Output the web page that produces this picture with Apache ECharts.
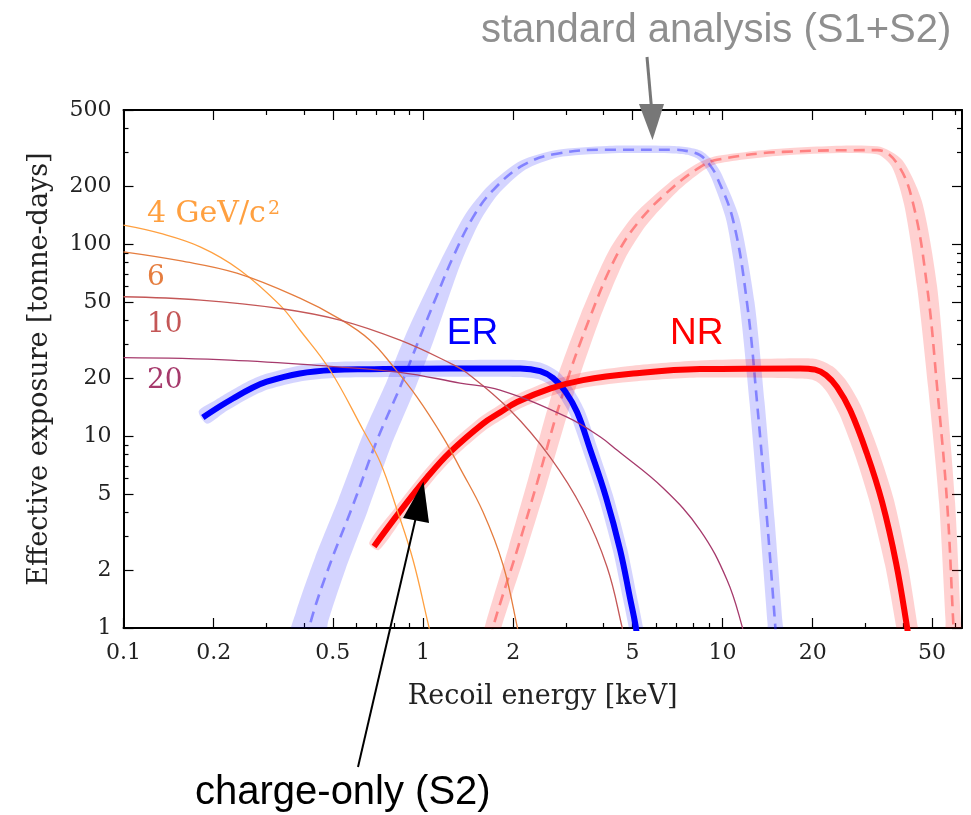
<!DOCTYPE html>
<html><head><meta charset="utf-8">
<script src="https://cdn.jsdelivr.net/npm/echarts@6/dist/echarts.min.js"></script>
<style>html,body{margin:0;padding:0;background:#fff}#c{width:971px;height:815px}</style>
</head><body><div id="c"></div>
<script>
// ---- data (recoil energy keV, effective exposure tonne-days) ----
const xMajor = [0.1, 0.2, 0.5, 1, 2, 5, 10, 20, 50];
const xMinor = [0.3, 0.4, 0.6, 0.7, 0.8, 0.9, 3, 4, 6, 7, 8, 9, 30, 40, 60];
const yMajor = [1, 2, 5, 10, 20, 50, 100, 200, 500];
const yMinor = [3, 4, 6, 7, 8, 9, 30, 40, 60, 70, 80, 90, 300, 400];

// charge-only (S2), electronic recoils
const erS2E = [0.184, 0.210, 0.232, 0.2645, 0.301, 0.388, 0.501, 0.650, 1.23, 2.11, 2.46, 2.72, 2.98, 3.27, 3.61, 4.08, 4.55, 4.91, 5.14, 5.18];
const erS2V = [12.5, 14.3, 15.7, 17.6, 19.2, 21.2, 22.1, 22.3, 22.5, 22.5, 21.8, 20.05, 17.15, 13.3, 8.56, 4.81, 2.55, 1.43, 1.0, 0.87];
// charge-only (S2), nuclear recoils
const nrS2E = [0.686, 0.838, 1.031, 1.231, 1.586, 1.807, 2.061, 2.655, 3.42, 5.03, 8.41, 18.15, 20.36, 22.16, 24.12, 26.66, 30.3, 34.09, 37.96, 41.3, 41.8];
const nrS2V = [2.66, 4.05, 6.08, 8.25, 11.62, 13.26, 15.04, 17.68, 19.57, 21.16, 22.34, 22.52, 22.2, 20.78, 18.0, 13.66, 8.15, 4.53, 2.18, 1.01, 0.87];
// standard analysis (S1+S2), electronic recoils
const erS1S2E = [0.4107, 0.426, 0.4892, 0.5838, 0.7024, 0.838, 0.977, 1.114, 1.259, 1.469, 1.713, 2.158, 2.80, 4.115, 6.835, 7.67, 8.41, 9.08, 9.58, 10.84, 12.07, 13.04, 14.08, 14.97, 15.09];
const erS1S2V = [0.866, 1.141, 2.154, 4.37, 9.53, 18.0, 32.8, 54.3, 85.5, 138.2, 191.1, 257.9, 296.0, 310.6, 310.6, 305.1, 290.7, 257.9, 223.4, 133.4, 49.3, 14.86, 3.65, 1.06, 0.866];
// standard analysis (S1+S2), nuclear recoils
const nrS1S2E = [1.687, 1.713, 2.061, 2.402, 2.934, 3.611, 4.434, 5.303, 6.835, 8.41, 9.58, 15.92, 32.8, 38.24, 43.26, 48.18, 52.02, 56.2, 58.85, 59.3];
const nrS1S2V = [0.866, 1.012, 2.548, 5.69, 16.75, 41.67, 87.6, 133.4, 198.1, 251.8, 275.4, 302.5, 308.8, 263.2, 162.9, 59.95, 18.06, 4.46, 1.10, 0.866];
// WIMP recoil spectra (4, 6, 10, 20 GeV/c^2)
const w4E = [0.1, 0.132, 0.181, 0.245, 0.333, 0.388, 0.489, 0.631, 0.719, 0.819, 0.926, 1.039, 1.07];
const w4V = [125.6, 114, 96.5, 73.2, 48.1, 35.7, 22.1, 10.75, 7.32, 4.12, 2.26, 1.06, 0.87];
const w6E = [0.1, 0.154, 0.239, 0.388, 0.528, 0.665, 0.794, 0.955, 1.166, 1.329, 1.586, 1.85, 2.061, 2.092];
const w6V = [91.2, 82.0, 70.6, 52.3, 40.7, 31.6, 23.1, 15.96, 9.88, 6.81, 4.02, 2.13, 1.02, 0.87];
const w10E = [0.1, 0.181, 0.333, 0.528, 0.838, 1.231, 1.403, 1.952, 2.655, 3.42, 4.115, 4.618, 4.69];
const w10V = [53.2, 51.1, 46.2, 40.2, 31.6, 24.0, 21.3, 13.66, 7.77, 4.12, 2.08, 1.01, 0.87];
const w20E = [0.1, 0.227, 0.489, 0.838, 1.329, 1.807, 3.026, 3.9, 4.44, 6.33, 8.41, 10.35, 11.62, 11.8];
const w20V = [25.6, 24.9, 23.1, 21.5, 18.9, 17.36, 12.56, 9.92, 8.45, 5.36, 3.24, 1.78, 1.02, 0.87];

const massLabels = ['4 GeV/c', '6', '10', '20'];

// ---- build ----
const zip = (a, b) => a.map((x, i) => [x, b[i]]);
const erS2 = zip(erS2E, erS2V), nrS2 = zip(nrS2E, nrS2V);
const erS1S2 = zip(erS1S2E, erS1S2V), nrS1S2 = zip(nrS1S2E, nrS1S2V);

const cW = ['#ffa040', '#e57d3f', '#c45757', '#a63a6c'];
const BLUE_BAND = 'rgba(0,0,255,0.17)', RED_BAND = 'rgba(255,0,0,0.18)';

function line(data, color, width, extra) {
  return Object.assign({
    type: 'line', data, symbol: 'none', smooth: 0.4, silent: true, clip: true,
    xAxisIndex: 0, yAxisIndex: 0,
    lineStyle: { color, width, cap: 'butt', join: 'round' }
  }, extra || {});
}
// uncertainty band drawn as a polygon around the curve (style: band width stops in px)
function bandSeries(data, color, stops, z) {
  const lx = stops.map(s => Math.log10(s[0]));
  const wAt = e => {
    const l = Math.log10(e);
    if (l <= lx[0]) return stops[0][1];
    for (let k = 1; k < stops.length; k++) {
      if (l <= lx[k]) { const t = (l - lx[k - 1]) / (lx[k] - lx[k - 1]); return stops[k - 1][1] + t * (stops[k][1] - stops[k - 1][1]); }
    }
    return stops[stops.length - 1][1];
  };
  return {
    type: 'custom', coordinateSystem: 'cartesian2d', xAxisIndex: 0, yAxisIndex: 0,
    z, silent: true, clip: true, data,
    renderItem(params, api) {
      if (params.dataIndex !== 0) return null;
      const p = data.map(d => api.coord(d));
      const n = p.length, L = [], R = [];
      for (let i = 0; i < n; i++) {
        const a = p[Math.max(0, i - 1)], b = p[Math.min(n - 1, i + 1)];
        let tx = b[0] - a[0], ty = b[1] - a[1];
        const len = Math.hypot(tx, ty) || 1; tx /= len; ty /= len;
        const h = wAt(data[i][0]) / 2;
        L.push([p[i][0] - ty * h, p[i][1] + tx * h]);
        R.push([p[i][0] + ty * h, p[i][1] - tx * h]);
      }
      return { type: 'polygon', shape: { points: L.concat(R.reverse()), smooth: 0.25 }, style: { fill: color } };
    }
  };
}

const series = [];
series.push(bandSeries(erS1S2, BLUE_BAND, [[0.4, 34], [0.98, 28], [1.26, 19], [1.47, 16], [1.71, 13], [2.16, 10], [2.8, 7.5], [7.7, 7.5], [9.6, 11], [12, 15], [15.2, 15]], 1));
series.push(bandSeries(nrS1S2, RED_BAND, [[1.68, 16], [2.9, 21], [4.4, 18], [5.3, 16], [6.8, 12], [8.4, 9], [9.6, 7.5], [16, 7], [32.8, 8], [38, 12], [43, 18], [48, 20], [56, 16], [59.5, 15]], 1));
series.push(line(erS1S2, 'rgba(30,30,255,0.45)', 2.6, { z: 2, lineStyle: { color: 'rgba(30,30,255,0.45)', width: 2.6, type: [11, 7] } }));
series.push(line(nrS1S2, 'rgba(255,30,30,0.45)', 2.6, { z: 2, lineStyle: { color: 'rgba(255,30,30,0.45)', width: 2.6, type: [11, 7] } }));
series.push(bandSeries(erS2, BLUE_BAND, [[0.18, 15], [0.5, 16], [2.2, 17], [3.3, 15], [5.2, 14]], 3));
series.push(bandSeries(nrS2, RED_BAND, [[0.68, 12], [1.2, 13], [3.4, 15], [8.4, 17], [18, 20], [26, 23], [34, 24], [42, 21]], 3));
series.push(line(erS2, '#0000ff', 6, { z: 4 }));
series.push(line(nrS2, '#ff0000', 6, { z: 5 }));
[[w4E, w4V], [w6E, w6V], [w10E, w10V], [w20E, w20V]].forEach((w, i) =>
  series.push(line(zip(w[0], w[1]), cW[i], 1.3, { z: 6 })));

const FONT = 'DejaVu Serif';
const fmt = v => String(+(+v).toPrecision(3));
function mkAxis(min, max, pos, ticks, len, showLine, showLabel, margin) {
  return {
    type: 'log', logBase: 10, min, max, position: pos, offset: 0,
    axisLine: { show: showLine, onZero: false, lineStyle: { color: '#000', width: 2 } },
    axisTick: { show: true, inside: true, length: len, customValues: ticks, lineStyle: { color: '#000', width: 1.2 } },
    axisLabel: { show: showLabel, customValues: ticks, formatter: fmt, fontFamily: FONT, fontSize: 22, color: '#222', margin },
    splitLine: { show: false }, minorTick: { show: false }
  };
}
const xAxes = [mkAxis(0.1, 63, 'bottom', xMajor, 10, true, true, 14), mkAxis(0.1, 63, 'bottom', xMinor, 5, false, false, 14),
               mkAxis(0.1, 63, 'top', xMajor, 10, true, false, 14), mkAxis(0.1, 63, 'top', xMinor, 5, false, false, 14)];
Object.assign(xAxes[0], { name: 'Recoil energy [keV]', nameLocation: 'middle', nameGap: 55,
  nameTextStyle: { fontFamily: FONT, fontSize: 27, color: '#222' } });
const yAxes = [mkAxis(1, 500, 'left', yMajor, 10, true, true, 12), mkAxis(1, 500, 'left', yMinor, 5, false, false, 12),
               mkAxis(1, 500, 'right', yMajor, 10, true, false, 12), mkAxis(1, 500, 'right', yMinor, 5, false, false, 12)];
Object.assign(yAxes[0], { name: 'Effective exposure [tonne-days]', nameLocation: 'middle', nameGap: 70,
  nameTextStyle: { fontFamily: FONT, fontSize: 27, color: '#222' } });

const SANS = '"Liberation Sans", Arial, sans-serif';
const SERIF = '"DejaVu Serif"';
const graphic = [
  { type: 'text', x: 481, y: 31, z: 100, style: { text: 'standard analysis (S1+S2)', font: '40px ' + SANS, fill: '#8f8f8f', verticalAlign: 'middle' } },
  { type: 'line', z: 100, shape: { x1: 647, y1: 57, x2: 651.5, y2: 108 }, style: { stroke: '#777', lineWidth: 3 } },
  { type: 'polygon', z: 100, shape: { points: [[639, 104], [664, 104], [652.5, 140]] }, style: { fill: '#777' } },
  { type: 'text', x: 195, y: 793, z: 100, style: { text: 'charge-only (S2)', font: '40px ' + SANS, fill: '#000', verticalAlign: 'middle' } },
  { type: 'line', z: 100, shape: { x1: 358, y1: 767, x2: 416, y2: 517 }, style: { stroke: '#000', lineWidth: 2 } },
  { type: 'polygon', z: 100, shape: { points: [[403, 518], [429, 523], [423.5, 481.5]] }, style: { fill: '#000' } },
  { type: 'text', x: 472.5, y: 334, z: 100, style: { text: 'ER', font: '37px ' + SANS, fill: '#0000ff', align: 'center', verticalAlign: 'middle' } },
  { type: 'text', x: 696.7, y: 334, z: 100, style: { text: 'NR', font: '37px ' + SANS, fill: '#ff0000', align: 'center', verticalAlign: 'middle' } },
  { type: 'text', x: 147, y: 214, z: 100, style: { text: massLabels[0], font: '30px ' + SERIF, fill: cW[0], verticalAlign: 'middle' } },
  { type: 'text', x: 268, y: 209, z: 100, style: { text: '2', font: '19px ' + SERIF, fill: cW[0], verticalAlign: 'middle' } },
  { type: 'text', x: 147, y: 278, z: 100, style: { text: massLabels[1], font: '28px ' + SERIF, fill: cW[1], verticalAlign: 'middle' } },
  { type: 'text', x: 147, y: 325, z: 100, style: { text: massLabels[2], font: '28px ' + SERIF, fill: cW[2], verticalAlign: 'middle' } },
  { type: 'text', x: 147, y: 381, z: 100, style: { text: massLabels[3], font: '28px ' + SERIF, fill: cW[3], verticalAlign: 'middle' } }
];

const chart = echarts.init(document.getElementById('c'), null, { renderer: 'canvas' });
chart.setOption({
  animation: false,
  backgroundColor: '#fff',
  grid: { left: 123.5, right: 9, top: 110, bottom: 187, containLabel: false, outerBoundsMode: 'none' },
  xAxis: xAxes,
  yAxis: yAxes,
  series,
  graphic
});
</script></body></html>
